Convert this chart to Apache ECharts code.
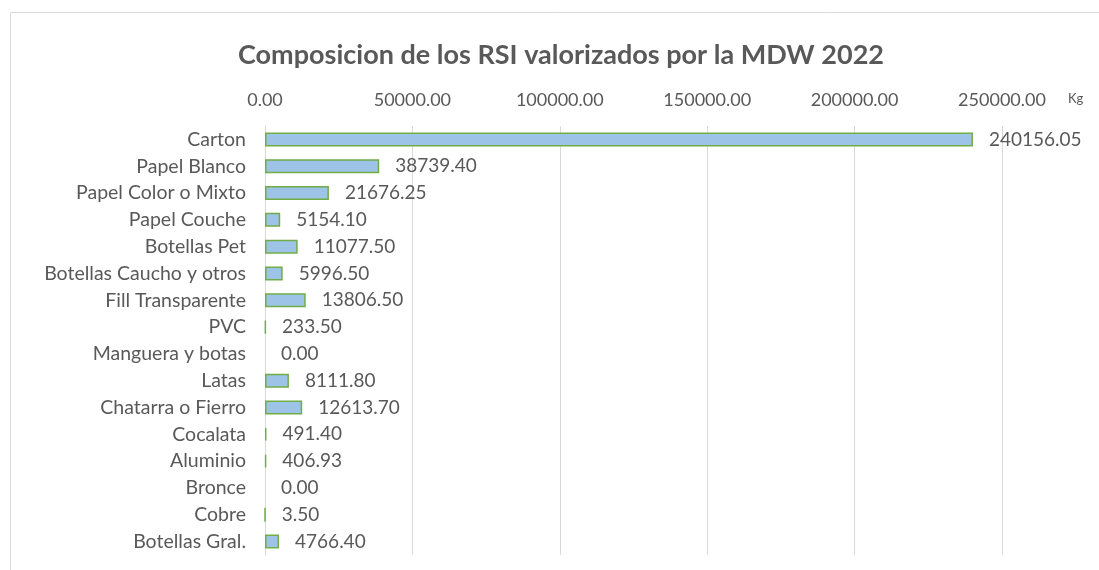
<!DOCTYPE html>
<html>
<head>
<meta charset="utf-8">
<script src="https://cdn.jsdelivr.net/npm/echarts@6/dist/echarts.min.js"></script>
<style>html,body{margin:0;padding:0;background:#fff;}#c{width:1099px;height:570px;}</style>
</head>
<body>
<div id="c"></div>
<script>
const titleText = 'Composicion de los RSI valorizados por la MDW 2022';
const categories = ['Carton','Papel Blanco','Papel Color o Mixto','Papel Couche','Botellas Pet','Botellas Caucho y otros','Fill Transparente','PVC','Manguera y botas','Latas','Chatarra o Fierro','Cocalata','Aluminio','Bronce','Cobre','Botellas Gral.'];
const values = [240156.05,38739.40,21676.25,5154.10,11077.50,5996.50,13806.50,233.50,0.00,8111.80,12613.70,491.40,406.93,0.00,3.50,4766.40];
const unitLabel = 'Kg';

const txt = '#595959';
const font = 'Lato';
const chart = echarts.init(document.getElementById('c'));
const data = values.map(v => v === 0 ? {value: v, itemStyle: {borderWidth: 0}} : v);
chart.setOption({
  animation: false,
  textStyle: {fontFamily: font},
  title: {text: titleText, left: 233, top: 37, textStyle: {fontFamily: font, fontSize: 27, fontWeight: 'bold', color: txt}},
  graphic: [
    {type: 'rect', shape: {x: 10.5, y: 12.5, width: 1200, height: 700}, style: {fill: 'none', stroke: '#d9d9d9', lineWidth: 1}, silent: true},
    {type: 'text', left: 1068, top: 92, style: {text: unitLabel, fill: txt, font: '13px Lato'}, silent: true}
  ],
  grid: {left: 265, right: 97, top: 126, bottom: 15, containLabel: false},
  xAxis: {
    type: 'value', position: 'top', min: 0, max: 250000, interval: 50000,
    axisLine: {show: false}, axisTick: {show: false},
    axisLabel: {color: txt, fontSize: 18, fontFamily: font, margin: 17, formatter: v => v.toFixed(2)},
    splitLine: {lineStyle: {color: '#d9d9d9', width: 1}}
  },
  yAxis: {
    type: 'category', data: categories, inverse: true,
    axisLine: {show: true, lineStyle: {color: '#d9d9d9', width: 1}}, axisTick: {show: false},
    axisLabel: {color: txt, fontSize: 19.5, fontFamily: font, margin: 19}
  },
  series: [{
    type: 'bar', data: data, barCategoryGap: '48%',
    itemStyle: {color: '#9dc3e6', borderColor: '#70ad47', borderWidth: 1.5},
    label: {show: true, position: 'right', distance: 16, color: txt, fontSize: 19, fontFamily: font, formatter: p => p.value.toFixed(2)}
  }]
});
</script>
</body>
</html>
